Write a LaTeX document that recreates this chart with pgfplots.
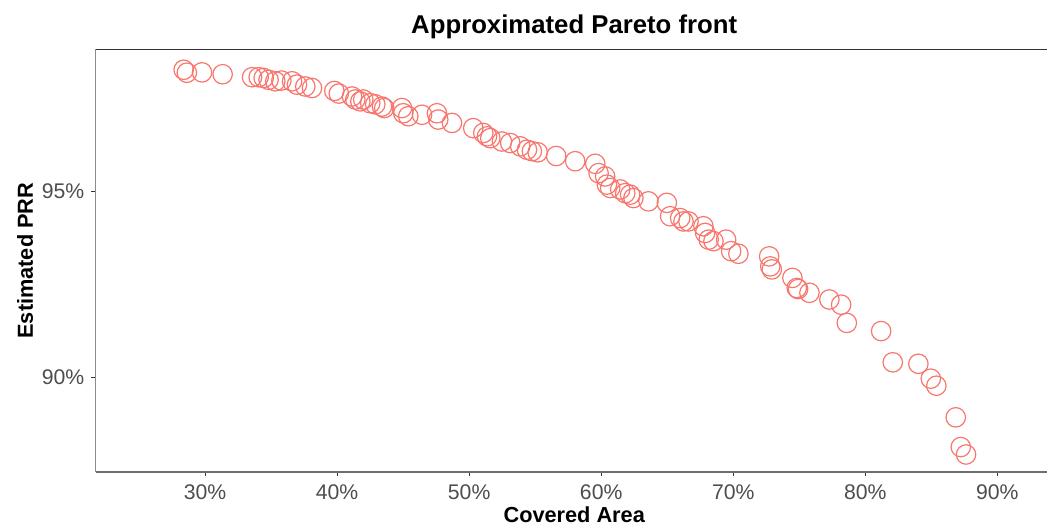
\documentclass[border=0pt]{standalone}
\usepackage{pgfplots}
\pgfplotsset{compat=1.18}
\usepackage{fontspec}
\setmainfont{Liberation Sans}
\definecolor{ptred}{HTML}{F8766D}
\definecolor{tickgray}{HTML}{4D4D4D}
\definecolor{axdark}{HTML}{333333}
\definecolor{axleft}{HTML}{8C8C8C}
\definecolor{axbottom}{HTML}{6E6E6E}
\begin{document}
\begin{tikzpicture}
\useasboundingbox (-71.8pt,-41.25pt) rectangle (713.5pt,354pt);
\begin{axis}[
  at={(0,0)}, anchor=south west,
  scale only axis, width=713.5pt, height=317pt,
  xmin=21.72, xmax=93.76, ymin=87.45, ymax=98.82,
  clip=false,
  axis line style={draw=none},
  xtick={30,40,50,60,70,80,90},
  xticklabels={30\%,40\%,50\%,60\%,70\%,80\%,90\%},
  ytick={90,95}, yticklabels={90\%,95\%},
  xtick pos=bottom, ytick pos=left,
  tick align=outside, major tick length=3.4pt,
  tick style={axdark, line width=0.8pt},
  ticklabel style={font=\fontsize{15.9}{18}\selectfont, text=tickgray},
  xticklabel style={anchor=base, inner sep=0pt, yshift=-17.1pt},
  yticklabel style={anchor=east, inner sep=0pt, xshift=-5pt},
]
\addplot[only marks, mark=o, mark size=7.3pt, mark options={draw=ptred, line width=0.9pt}] table {
x y
28.38 98.27
28.62 98.19
29.77 98.20
31.33 98.15
33.56 98.07
34.06 98.07
34.44 98.05
34.81 98.00
35.32 97.96
35.78 97.98
36.59 97.96
36.96 97.87
37.59 97.82
38.10 97.78
39.79 97.70
40.13 97.63
41.13 97.55
41.38 97.47
41.76 97.42
41.98 97.47
42.51 97.37
42.89 97.34
43.40 97.28
43.57 97.24
44.91 97.24
45.01 97.10
45.39 97.02
46.43 97.06
47.56 97.10
47.66 96.93
48.70 96.84
50.31 96.70
51.07 96.57
51.35 96.48
51.60 96.43
52.48 96.34
53.11 96.30
53.87 96.21
54.38 96.12
54.75 96.08
55.19 96.05
56.59 95.95
58.03 95.81
59.55 95.74
59.80 95.49
60.30 95.40
60.43 95.18
60.68 95.09
61.44 95.05
61.82 94.95
62.19 94.91
62.44 94.82
63.58 94.73
64.97 94.69
65.22 94.33
65.98 94.28
66.23 94.19
66.61 94.19
67.74 94.06
67.87 93.88
68.14 93.70
68.50 93.66
69.46 93.70
69.84 93.39
70.39 93.32
72.72 93.25
72.80 92.98
72.92 92.90
74.48 92.67
74.81 92.40
74.91 92.37
75.77 92.27
77.28 92.09
78.17 91.95
78.60 91.46
81.20 91.24
82.08 90.40
84.02 90.36
84.96 89.96
85.38 89.77
86.85 88.92
87.23 88.12
87.63 87.92
};
\draw[axdark, line width=1pt] (rel axis cs:0,1) -- (rel axis cs:1,1);
\draw[axleft, line width=1pt] (rel axis cs:0,0) -- (rel axis cs:0,1);
\draw[axbottom, line width=1pt] (rel axis cs:0,0) -- (rel axis cs:1,0);
\node[anchor=base, yshift=12.2pt, font=\bfseries\fontsize{19.3}{22}\selectfont] at (rel axis cs:0.503,1) {Approximated Pareto front};
\node[anchor=base, yshift=-38.25pt, font=\bfseries\fontsize{16.3}{19}\selectfont] at (rel axis cs:0.503,0) {Covered Area};
\path (rel axis cs:0,0.5) ++(-53pt,0pt) node[rotate=90, anchor=center, font=\bfseries\fontsize{16.3}{19}\selectfont] {Estimated PRR};
\end{axis}
\end{tikzpicture}
\end{document}
